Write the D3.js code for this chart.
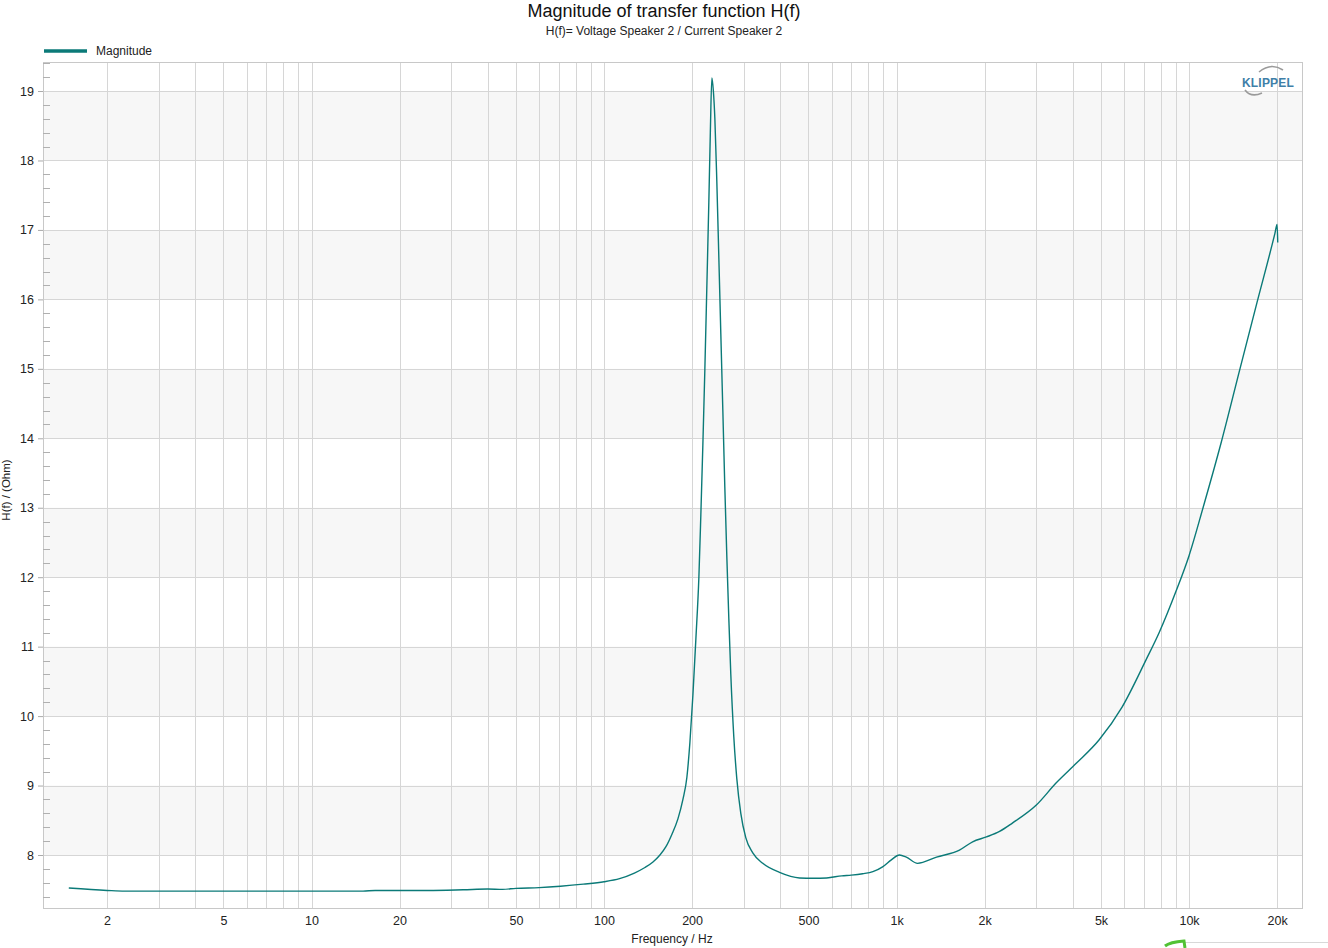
<!DOCTYPE html>
<html>
<head>
<meta charset="utf-8">
<script src="https://cdn.jsdelivr.net/npm/d3@7/dist/d3.min.js"></script>
<style>
  html, body { margin: 0; padding: 0; background: #fff; }
  svg { display: block; font-family: "Liberation Sans", Arial, sans-serif; }
</style>
</head>
<body>
<svg id="chart" width="1328" height="948"></svg>
<script>
// ---- Data ----
const freqs = [1.48, 2.0, 2.3, 5, 10, 15, 16.5, 25, 33, 40, 45, 50, 60, 71, 85, 100, 113, 127, 138.0, 147.0,
  155.3, 162.8, 170.7, 178.9, 186.1, 192.0, 196.6, 201.3, 206.0, 211.0, 214.3, 217.7, 221.2, 224.7, 228.2, 230.9, 233.7,
  236.5, 239.3, 243.0, 246.9, 250.8, 254.8, 258.8, 262.9, 267.1, 271.3, 277.8, 284.4, 293.5, 305.2, 322.5, 348.9,
  398, 466, 520, 577, 650, 700, 766, 830, 896, 960, 1023, 1080, 1180, 1370, 1641, 1820, 2029, 2250, 2489,
  3006, 3516, 4115, 4930, 5902, 7127, 7900, 9030, 10000, 11165, 12900, 14930, 17060, 19660, 20000, 20100];
const magnitude = [7.525, 7.49, 7.48, 7.48, 7.48, 7.48, 7.49, 7.49, 7.50, 7.51, 7.505, 7.52, 7.53, 7.55, 7.58, 7.615, 7.66, 7.74, 7.82, 7.90,
  8.0, 8.12, 8.3, 8.52, 8.8, 9.12, 9.62, 10.3, 11.1, 12.0, 12.9, 13.9, 15.0, 16.2, 17.4, 18.4, 19.19,
  19.0, 18.6, 17.7, 16.6, 15.5, 14.4, 13.3, 12.3, 11.4, 10.6, 9.7, 9.1, 8.6, 8.25, 8.03, 7.88,
  7.75, 7.67, 7.665, 7.67, 7.70, 7.71, 7.73, 7.76, 7.83, 7.93, 8.0, 7.97, 7.88, 7.97, 8.07, 8.19, 8.26, 8.34, 8.46,
  8.72, 9.04, 9.32, 9.66, 10.13, 10.81, 11.2, 11.8, 12.31, 13.0, 13.95, 15.0, 15.95, 16.95, 17.08, 16.82];
const xTickValues = [2, 5, 10, 20, 50, 100, 200, 500, 1000, 2000, 5000, 10000, 20000];
const xTickLabels = ["2", "5", "10", "20", "50", "100", "200", "500", "1k", "2k", "5k", "10k", "20k"];
const yTickValues = [8, 9, 10, 11, 12, 13, 14, 15, 16, 17, 18, 19];
const title = "Magnitude of transfer function H(f)";
const subtitle = "H(f)= Voltage Speaker 2 / Current Speaker 2";
const seriesName = "Magnitude";
const xTitle = "Frequency / Hz";
const yTitle = "H(f) / (Ohm)";

// ---- Layout ----
const svg = d3.select("#chart");
const L = 43, R = 1302, T = 62, B = 908;
const lineColor = "#0b7a78";
const gridColor = "#d6d6d6";

const x = d3.scaleLog().domain([1.208, 24330]).range([L, R]);
const y = d3.scaleLinear().domain([7.237, 19.418]).range([B, T]);

// bands
const bandStarts = [8, 10, 12, 14, 16, 18];
svg.append("g").selectAll("rect").data(bandStarts).join("rect")
  .attr("x", L).attr("width", R - L)
  .attr("y", d => y(d + 1)).attr("height", d => y(d) - y(d + 1))
  .attr("fill", "#f7f7f7");

// vertical grid (1..9 per decade)
const xGrid = [];
for (let dec = 1; dec <= 10000; dec *= 10) {
  for (let m = 1; m <= 9; m++) {
    const v = m * dec;
    if (v >= x.domain()[0] && v <= x.domain()[1]) xGrid.push(v);
  }
}
svg.append("g").selectAll("line").data(xGrid).join("line")
  .attr("x1", d => Math.round(x(d)) + 0.5).attr("x2", d => Math.round(x(d)) + 0.5)
  .attr("y1", T).attr("y2", B)
  .attr("stroke", gridColor).attr("stroke-width", 1);

// horizontal grid
svg.append("g").selectAll("line").data(yTickValues).join("line")
  .attr("x1", L).attr("x2", R)
  .attr("y1", d => Math.round(y(d)) + 0.5).attr("y2", d => Math.round(y(d)) + 0.5)
  .attr("stroke", gridColor).attr("stroke-width", 1);

// frame
svg.append("rect").attr("x", L + 0.5).attr("y", T + 0.5)
  .attr("width", R - L).attr("height", B - T)
  .attr("fill", "none").attr("stroke", "#c8c8c8").attr("stroke-width", 1);

// minor y ticks (every 0.2) inside the frame
const minorY = d3.range(7.4, 19.41, 0.2).filter(v => Math.abs(v - Math.round(v)) > 0.01);
svg.append("g").selectAll("line").data(minorY).join("line")
  .attr("x1", L).attr("x2", L + 7)
  .attr("y1", d => Math.round(y(d)) + 0.5).attr("y2", d => Math.round(y(d)) + 0.5)
  .attr("stroke", "#b0b0b0").attr("stroke-width", 1);

// y axis labels and major ticks
const yAxis = d3.axisLeft(y).tickValues(yTickValues).tickSize(5).tickPadding(4).tickFormat(d3.format("d"));
const gy = svg.append("g").attr("transform", `translate(${L},0)`).call(yAxis);
gy.select(".domain").remove();
gy.selectAll(".tick line").attr("stroke", "#aaa");
gy.selectAll(".tick text").attr("font-size", 12.5).attr("fill", "#222")
  .attr("font-family", "Liberation Sans, Arial, sans-serif");

// x axis labels
const xAxis = d3.axisBottom(x).tickValues(xTickValues).tickSize(0).tickPadding(8)
  .tickFormat((d, i) => xTickLabels[i]);
const gx = svg.append("g").attr("transform", `translate(0,${B})`).call(xAxis);
gx.select(".domain").remove();
gx.selectAll(".tick text").attr("font-size", 12.5).attr("fill", "#222")
  .attr("font-family", "Liberation Sans, Arial, sans-serif");

// data line
const line = d3.line().x((d, i) => x(freqs[i])).y(d => y(d)).curve(d3.curveMonotoneX);
svg.append("path").datum(magnitude)
  .attr("d", line).attr("fill", "none")
  .attr("stroke", lineColor).attr("stroke-width", 1.4);

// titles
svg.append("text").attr("x", 664).attr("y", 17).attr("text-anchor", "middle")
  .attr("font-size", 18).attr("fill", "#111").text(title);
svg.append("text").attr("x", 664).attr("y", 35).attr("text-anchor", "middle")
  .attr("font-size", 12).attr("fill", "#222").text(subtitle);

// legend
svg.append("line").attr("x1", 44).attr("x2", 87).attr("y1", 51).attr("y2", 51)
  .attr("stroke", lineColor).attr("stroke-width", 3.5);
svg.append("text").attr("x", 96).attr("y", 55).attr("font-size", 12).attr("fill", "#222").text(seriesName);

// axis titles
svg.append("text").attr("x", 672).attr("y", 943).attr("text-anchor", "middle")
  .attr("font-size", 12).attr("fill", "#222").text(xTitle);
svg.append("text").attr("transform", "translate(10,490) rotate(-90)").attr("text-anchor", "middle")
  .attr("font-size", 11.5).attr("fill", "#222").text(yTitle);

// KLIPPEL logo
const logo = svg.append("g");
logo.append("text").attr("x", 1268).attr("y", 87).attr("text-anchor", "middle")
  .attr("font-size", 12).attr("font-weight", "bold").attr("fill", "#3f7fa8")
  .attr("letter-spacing", 0.2).text("KLIPPEL");
logo.append("path").attr("d", "M1259,72 Q1271,62 1283,70")
  .attr("fill", "none").attr("stroke", "#9a9a9a").attr("stroke-width", 1.6);
logo.append("path").attr("d", "M1245,90 Q1251,98 1262,93")
  .attr("fill", "none").attr("stroke", "#9a9a9a").attr("stroke-width", 1.6);

// bottom-right artefact (cursor/box)
svg.append("rect").attr("x", 1184.5).attr("y", 942.5).attr("width", 150).attr("height", 20)
  .attr("fill", "#fff").attr("stroke", "#d8d8d8");
svg.append("path").attr("d", "M1165,946 Q1170,942 1184,941 L1185,948")
  .attr("fill", "none").attr("stroke", "#52c234").attr("stroke-width", 3);
</script>
</body>
</html>
